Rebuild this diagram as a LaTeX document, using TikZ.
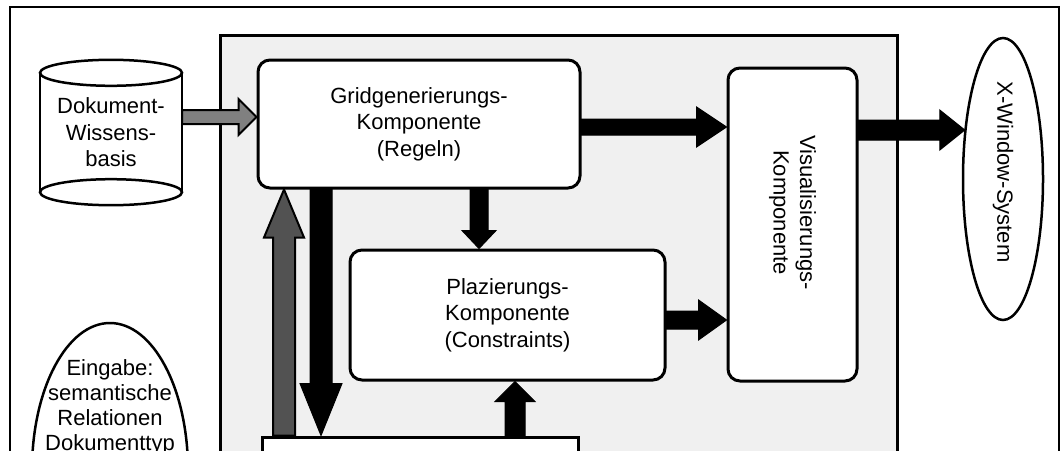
\documentclass[tikz,border=0pt]{standalone}
\usepackage{fontspec}
\setmainfont{Liberation Sans}
\usetikzlibrary{calc,shapes.geometric}
% block arrow: style, start, end, shaft half width, head length, head half width
\newcommand\blkarrow[6]{%
  \coordinate (ba-h) at ($(#3)!#5!(#2)$);
  \filldraw[#1] ($(#2)!#4!90:(#3)$) -- ($(ba-h)!#4!-90:(#2)$) -- ($(ba-h)!#6!-90:(#2)$) -- (#3)
    -- ($(ba-h)!#6!90:(#2)$) -- ($(ba-h)!#4!90:(#2)$) -- ($(#2)!#4!-90:(#3)$) -- cycle;}
\begin{document}
\begin{tikzpicture}[x=1pt,y=-1pt,
  txt/.style={font=\fontsize{22}{26.5}\selectfont, align=center},
  box/.style={draw, line width=3pt, rounded corners=12pt, fill=white, inner sep=0pt},
  oval/.style={draw, ellipse, line width=2.5pt, fill=white, inner sep=0pt},
  cyl/.style={line width=2.5pt},
  blackarrow/.style={fill=black, draw=black, line width=1pt, line join=miter},
  grayarrow/.style={fill=black!50, draw=black, line width=2pt, line join=miter},
  darkarrow/.style={fill=black!68, draw=black, line width=2pt, line join=miter}]
\useasboundingbox (0,0) rectangle (1062,450);
\clip (0,0) rectangle (1062,450);
\fill[white] (0,0) rectangle (1062,450);
% frames
\draw[line width=2pt] (10,7) rectangle (1059,480);
\draw[line width=3pt, fill=gray!12] (220,35) rectangle (897,480);
% knowledge base cylinder
\node[txt, fill=white, minimum width=142pt, minimum height=145pt, inner sep=0pt] (kb) at (111,132.5) {Dokument-\\Wissens-\\basis};
\draw[cyl] ($(kb.north west)+(0,13)$) -- ($(kb.south west)+(0,-13)$);
\draw[cyl] ($(kb.north east)+(0,13)$) -- ($(kb.south east)+(0,-13)$);
\draw[cyl, fill=white] ($(kb.north)+(0,13)$) ellipse [x radius=71, y radius=13];
\draw[cyl] ($(kb.south)+(0,-13)$) ellipse [x radius=71, y radius=13];
% components
\node[box, txt, minimum width=322pt, minimum height=128pt] (grid) at (419,124) {Gridgenerierungs-\\Komponente\\(Regeln)};
\node[box, txt, minimum width=315pt, minimum height=130pt] (plaz) at (507.5,315) {Plazierungs-\\Komponente\\(Constraints)};
\node[box, minimum width=129pt, minimum height=313pt] (vis) at (792.5,224.5) {};
\node[txt, rotate=-90] (vistext) at ($(vis.center)+(0,-12)$) {Visualisierungs-\\Komponente};
\node[oval, minimum width=80pt, minimum height=282pt] (xwin) at (1003,179) {};
\node[txt, rotate=-90] (xtext) at ($(xwin.center)+(0,-7)$) {X-Window-System};
\node[draw, line width=3pt, fill=white, minimum width=316pt, minimum height=60pt, inner sep=0pt] (bot) at (420,467) {};
\node[oval, minimum width=156pt, minimum height=294pt] (eing) at (110,470) {};
\node[txt, font=\fontsize{22}{25}\selectfont] (eingtext) at ($(eing.center)+(0,-63)$) {Eingabe:\\semantische\\Relationen\\Dokumenttyp};
% arrow end points
\coordinate (a1s) at ($(kb.east)+(0,-15.5)$);
\coordinate (a1e) at (grid.west |- a1s);
\coordinate (a2s) at ($(grid.east)+(0,3)$);
\coordinate (a2e) at (vis.west |- a2s);
\coordinate (a3s) at ($(vis.east)+(0,-94.5)$);
\coordinate (a3e) at ($(xwin.west |- a3s)+(3,0)$);
\coordinate (a4s) at ($(grid.south)+(60,0)$);
\coordinate (a4e) at (plaz.north -| a4s);
\coordinate (a5s) at ($(plaz.east)+(0,5)$);
\coordinate (a5e) at (vis.west |- a5s);
\coordinate (a6s) at ($(bot.north)+(95,0)$);
\coordinate (a6e) at (plaz.south -| a6s);
\coordinate (a7s) at ($(bot.north)+(-136,0)$);
\coordinate (a7e) at (grid.south -| a7s);
\coordinate (a8s) at ($(grid.south)+(-98,0)$);
\coordinate (a8e) at (bot.north -| a8s);
% arrows
\blkarrow{grayarrow}{a1s}{a1e}{7pt}{18pt}{18pt}
\blkarrow{blackarrow}{a2s}{a2e}{8pt}{30pt}{20pt}
\blkarrow{blackarrow}{a3s}{a3e}{10pt}{25pt}{20pt}
\blkarrow{blackarrow}{a4s}{a4e}{9pt}{18pt}{17pt}
\blkarrow{blackarrow}{a5s}{a5e}{9pt}{28pt}{20pt}
\blkarrow{blackarrow}{a6s}{a6e}{10pt}{20pt}{20pt}
\blkarrow{darkarrow}{a7s}{a7e}{11pt}{48pt}{20pt}
\blkarrow{blackarrow}{a8s}{a8e}{11pt}{52pt}{21pt}
\end{tikzpicture}
\end{document}
